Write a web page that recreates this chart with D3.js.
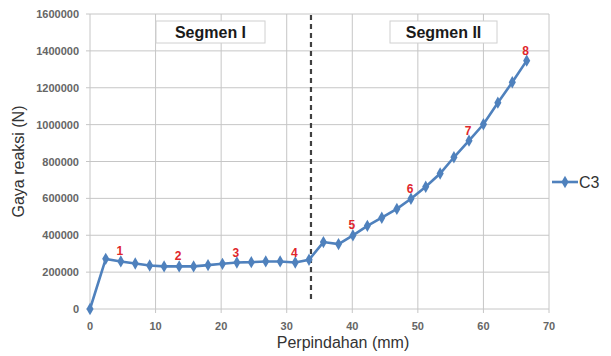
<!DOCTYPE html>
<html>
<head>
<meta charset="utf-8">
<script src="https://cdn.jsdelivr.net/npm/d3@7"></script>
<style>
body { margin: 0; background: #fff; }
svg { font-family: "Liberation Sans", Arial, sans-serif; }
</style>
</head>
<body>
<svg id="chart" width="611" height="356"></svg>
<script>
// displacement (mm) and reaction force (N)
var xs = [0, 2.4, 4.7, 6.9, 9.1, 11.3, 13.6, 15.8, 18.0, 20.2, 22.4, 24.6, 26.8, 29.0, 31.3, 33.4,
	35.6, 37.9, 40.1, 42.3, 44.5, 46.8, 48.95, 51.2, 53.4, 55.5, 57.8, 60.0, 62.2, 64.4, 66.6];
var ys = [0, 272000, 258000, 247000, 236000, 231000, 231000, 231000, 238000, 245000, 252000, 254000, 258000, 258000, 252000, 267000,
	363000, 352000, 399000, 451000, 495000, 543000, 598000, 663000, 735000, 823000, 913000, 1002000, 1119000, 1230000, 1347000];
var labelIdx = [2, 6, 10, 14, 18, 22, 26, 30];
var labelTxt = ["1", "2", "3", "4", "5", "6", "7", "8"];
var xTicks = [0, 10, 20, 30, 40, 50, 60, 70];
var yTicks = [0, 200000, 400000, 600000, 800000, 1000000, 1200000, 1400000, 1600000];
var segX = 33.7;
var segments = [{name: "Segmen I", x0: 156, x1: 265}, {name: "Segmen II", x0: 390, x1: 497}];
var seriesName = "C3";

var svg = d3.select("#chart");
var pLeft = 90, pRight = 549, pTop = 14, pBottom = 309;
var blue = "#4F81BD";

var x = d3.scaleLinear().domain([0, 70]).range([pLeft, pRight]);
var y = d3.scaleLinear().domain([0, 1600000]).range([pBottom, pTop]);

// grid
svg.append("g").selectAll("line").data(yTicks).enter().append("line")
	.attr("x1", pLeft - 4).attr("x2", pRight)
	.attr("y1", function(d){ return y(d); }).attr("y2", function(d){ return y(d); })
	.attr("stroke", "#c6c6c6").attr("stroke-width", 1);
svg.append("g").selectAll("line").data(xTicks).enter().append("line")
	.attr("y1", pTop).attr("y2", pBottom + 4)
	.attr("x1", function(d){ return x(d); }).attr("x2", function(d){ return x(d); })
	.attr("stroke", "#c6c6c6").attr("stroke-width", 1);

// tick labels
svg.append("g").selectAll("text").data(yTicks).enter().append("text")
	.attr("x", pLeft - 11).attr("y", function(d){ return y(d) + 4; })
	.attr("text-anchor", "end").attr("font-size", 11).attr("font-weight", "bold")
	.attr("fill", "#666").text(function(d){ return d; });
svg.append("g").selectAll("text").data(xTicks).enter().append("text")
	.attr("x", function(d){ return x(d); }).attr("y", pBottom + 21)
	.attr("text-anchor", "middle").attr("font-size", 11).attr("font-weight", "bold")
	.attr("fill", "#666").text(function(d){ return d; });

// axis titles
svg.append("text").attr("x", 343).attr("y", 348).attr("text-anchor", "middle")
	.attr("font-size", 16).attr("fill", "#333").text("Perpindahan (mm)");
svg.append("text").attr("transform", "translate(24," + ((pTop + pBottom) / 2) + ") rotate(-90)")
	.attr("text-anchor", "middle").attr("font-size", 16).attr("fill", "#333").text("Gaya reaksi (N)");

// segment boxes
segments.forEach(function(s){
	svg.append("rect").attr("x", s.x0).attr("y", 21).attr("width", s.x1 - s.x0).attr("height", 22)
		.attr("fill", "#fff").attr("stroke", "#d0d0d0");
	svg.append("text").attr("x", (s.x0 + s.x1) / 2).attr("y", 37.5).attr("text-anchor", "middle")
		.attr("font-size", 16).attr("font-weight", "bold").attr("fill", "#1a1a1a").text(s.name);
});

// dashed separator
svg.append("line").attr("x1", x(segX)).attr("x2", x(segX)).attr("y1", pTop + 1).attr("y2", pBottom - 7)
	.attr("stroke", "#404040").attr("stroke-width", 2.2).attr("stroke-dasharray", "5,4");

// series
var pts = xs.map(function(v, i){ return [v, ys[i]]; });
var line = d3.line().x(function(d){ return x(d[0]); }).y(function(d){ return y(d[1]); });
svg.append("path").datum(pts).attr("d", line).attr("fill", "none")
	.attr("stroke", blue).attr("stroke-width", 2.6);
var diamond = d3.symbol().type(d3.symbolDiamond).size(44);
svg.append("g").selectAll("path").data(pts).enter().append("path")
	.attr("d", diamond)
	.attr("transform", function(d){ return "translate(" + x(d[0]) + "," + y(d[1]) + ")"; })
	.attr("fill", blue);

// point numbers
svg.append("g").selectAll("text").data(labelIdx).enter().append("text")
	.attr("x", function(d){ return x(xs[d]) - 1; })
	.attr("y", function(d){ return y(ys[d]) - 6; })
	.attr("text-anchor", "middle").attr("font-size", 12).attr("font-weight", "bold")
	.attr("fill", "#e0262b").text(function(d, i){ return labelTxt[i]; });

// legend
svg.append("line").attr("x1", 552).attr("x2", 578).attr("y1", 182).attr("y2", 182)
	.attr("stroke", blue).attr("stroke-width", 2.6);
svg.append("path").attr("d", diamond).attr("transform", "translate(565,182)").attr("fill", blue);
svg.append("text").attr("x", 579).attr("y", 188).attr("font-size", 16).attr("fill", "#333").text(seriesName);
</script>
</body>
</html>
